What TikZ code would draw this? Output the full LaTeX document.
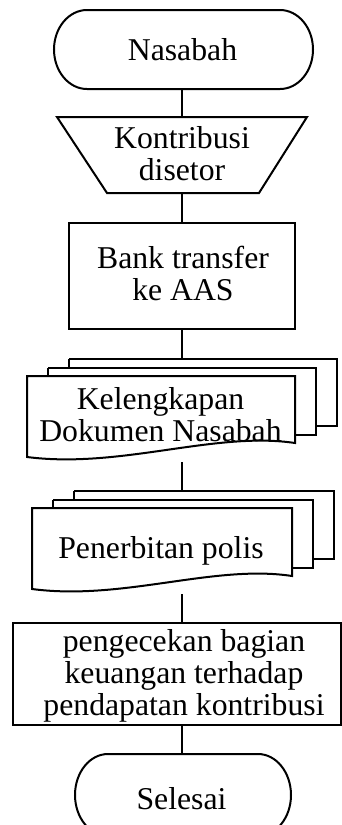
\documentclass[tikz,border=0pt]{standalone}
\usepackage{fontspec}
\setmainfont{Liberation Serif}
\usepackage{tikz}
\usetikzlibrary{calc, positioning}
\newcommand\flowx{182}
\newcommand\termblock[4]{\draw[flowline] (#1+33,#2) -- (#3-33,#2) .. controls (#3-14.8,#2) and (#3,{(#2+#4)/2-0.276*(#4-#2)}) .. (#3,{(#2+#4)/2}) .. controls (#3,{(#2+#4)/2+0.276*(#4-#2)}) and (#3-14.8,#4) .. (#3-33,#4) -- (#1+33,#4) .. controls (#1+14.8,#4) and (#1,{(#2+#4)/2+0.276*(#4-#2)}) .. (#1,{(#2+#4)/2}) .. controls (#1,{(#2+#4)/2-0.276*(#4-#2)}) and (#1+14.8,#2) .. cycle;}
\newcommand\docstack[5]{\draw[flowline] (#1+42,#2-17) -- (#1+42+#3,#2-17) -- (#1+42+#3,#2-17+#4) -- (#1+21+#3,#2-17+#4);
\draw[flowline] (#1+42,#2-17) -- (#1+42,#2-8.5);
\draw[flowline] (#1+21,#2-8.5) -- (#1+21+#3,#2-8.5) -- (#1+21+#3,#2-8.5+#4) -- (#1+#3,#2-8.5+#4);
\draw[flowline] (#1+21,#2-8.5) -- (#1+21,#2);
\draw[flowline, fill=white] (#1,#2) -- (#1+#3,#2) -- (#1+#3,#2+#4) .. controls (#1+0.7*#3,#2+#4-12) and (#1+0.35*#3,#2+#5+12) .. (#1,#2+#5) -- cycle;}

\begin{document}
\begin{tikzpicture}[x=0.75pt, y=-0.75pt,
  flowline/.style={line width=1.5pt, line join=miter},
  flowtext/.style={inner sep=0pt, align=center, font=\fontsize{23.8}{24}\selectfont}]
\useasboundingbox (0,0) rectangle (342,825);

% shapes
\termblock{54}{10}{313}{89}
\draw[flowline] (57,117) -- (307,117) -- (259,193) -- (107,193) -- cycle;
\draw[flowline] (69,223) rectangle (295,329);
\docstack{27}{376}{268}{67}{81}
\docstack{32}{508}{260}{68}{81}
\draw[flowline] (13,623) rectangle (341,725);
\termblock{75}{754}{291}{836}

% texts
\node[flowtext] (nasabah) at (182.5,49.2) {Nasabah};
\node[flowtext] (kontribusi) at (182,153.2) {Kontribusi\\disetor};
\node[flowtext] (bank) at (183,273.2) {Bank transfer\\ke AAS};
\node[flowtext] (kelengkapan) at (160.5,414.5) {Kelengkapan\\Dokumen Nasabah};
\node[flowtext] (polis) at (161,550.7) {Penerbitan polis};
\node[flowtext] (cek) at (184,676.3) {pengecekan bagian\\keuangan terhadap\\pendapatan kontribusi};
\node[flowtext] (selesai) at (181.5,799) {Selesai};

% connector ends
\coordinate (nas-s) at (\flowx,89);
\coordinate (kon-n) at (\flowx,117);
\coordinate (kon-s) at (\flowx,193);
\coordinate (bank-n) at (\flowx,223);
\coordinate (bank-s) at (\flowx,329);
\coordinate (kel-n) at (\flowx,359);
\coordinate (kel-s) at (\flowx,462);
\coordinate (pol-n) at (\flowx,491);
\coordinate (pol-s) at (\flowx,594);
\coordinate (cek-n) at (\flowx,623);
\coordinate (cek-s) at (\flowx,725);
\coordinate (sel-n) at (\flowx,754);

\draw[flowline] (nas-s) -- (kon-n);
\draw[flowline] (kon-s) -- (bank-n);
\draw[flowline] (bank-s) -- (kel-n);
\draw[flowline] (kel-s) -- (pol-n);
\draw[flowline] (pol-s) -- (cek-n);
\draw[flowline] (cek-s) -- (sel-n);

\end{tikzpicture}
\end{document}
